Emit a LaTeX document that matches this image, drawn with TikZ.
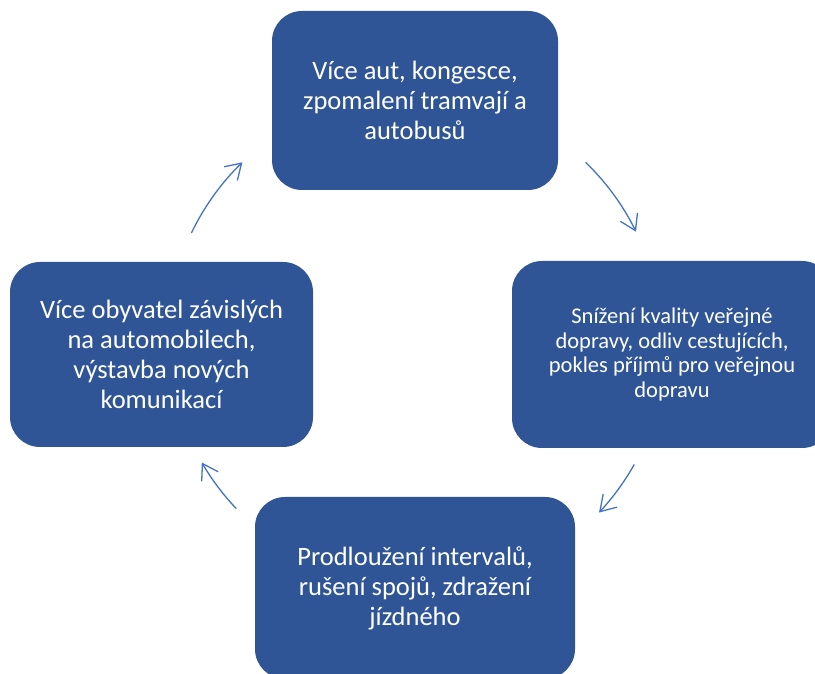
\documentclass[tikz,border=0pt]{standalone}
\usepackage{fontspec}
\setmainfont{Carlito}
\usetikzlibrary{arrows.meta,calc}
\definecolor{boxblue}{HTML}{2F5597}
\definecolor{arrowblue}{HTML}{4472C4}
\begin{document}
\begin{tikzpicture}[x=1pt,y=1pt,
  cyclebox/.style={fill=boxblue, draw=none, rounded corners=30pt, text=white,
    align=center, inner sep=0pt, font=\fontsize{26.5}{30}\selectfont},
  cyclearrow/.style={draw=arrowblue, line width=1.3pt,
    -{Straight Barb[length=15pt,width=19pt,line width=1.3pt]}}]
\useasboundingbox (0,0) rectangle (815,674);
\clip (0,0) rectangle (815,674);
\node[cyclebox, minimum width=286pt, minimum height=179pt] (top) at (415,573.5)
  {Více aut, kongesce,\\zpomalení tramvají a\\autobusů};
\node[cyclebox, minimum width=320pt, minimum height=187pt, font=\fontsize{22.5}{24.5}\selectfont] (right) at (672,319.5)
  {Snížení kvality veřejné\\dopravy, odliv cestujících,\\pokles příjmů pro veřejnou\\dopravu};
\node[cyclebox, minimum width=320pt, minimum height=182pt] (bottom) at (415,86)
  {Prodloužení intervalů,\\rušení spojů, zdražení\\jízdného};
\node[cyclebox, minimum width=303pt, minimum height=185pt] (left) at (161.5,319.5)
  {Více obyvatel závislých\\na automobilech,\\výstavba nových\\komunikací};
\coordinate (cc) at (414,334);
\coordinate (a1) at ($(cc)+(46:247)$);
\coordinate (a2) at ($(cc)+(-29.5:253)$);
\coordinate (a3) at ($(cc)+(-136.5:245)$);
\coordinate (a4) at ($(cc)+(154.3:247)$);
\draw[cyclearrow] (a1) arc[start angle=46, end angle=26, radius=247];
\draw[cyclearrow] (a2) arc[start angle=-29.5, end angle=-43, radius=253];
\draw[cyclearrow] (a3) arc[start angle=-136.5, end angle=-150, radius=245];
\draw[cyclearrow] (a4) arc[start angle=154.3, end angle=134, radius=247];
\end{tikzpicture}
\end{document}
